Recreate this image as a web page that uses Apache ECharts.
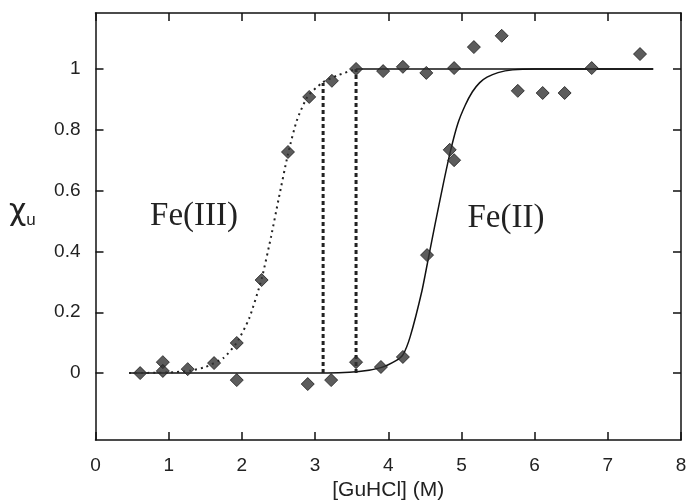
<!DOCTYPE html>
<html>
<head>
<meta charset="utf-8">
<script src="https://cdn.jsdelivr.net/npm/echarts@6/dist/echarts.min.js"></script>
<style>html,body{margin:0;padding:0;background:#fff}#c{width:687px;height:500px}</style>
</head>
<body>
<div id="c"></div>
<script>
// Data
const xTicks = [0, 1, 2, 3, 4, 5, 6, 7, 8];
const yTicks = [0, 0.2, 0.4, 0.6, 0.8, 1];

// Fe(III) measured points
const fe3Points = [
  [0.92, 0.036], [1.26, 0.013], [1.62, 0.033], [1.93, 0.099], [2.27, 0.306],
  [2.63, 0.727], [2.92, 0.908], [3.23, 0.961], [3.56, 1.0], [3.93, 0.993],
  [4.20, 1.007], [4.52, 0.987], [4.90, 1.003], [5.17, 1.072], [5.55, 1.109],
  [5.77, 0.928], [6.11, 0.921], [6.41, 0.921], [6.78, 1.003], [7.44, 1.049]
];
// Fe(II) measured points
const fe2Points = [
  [0.61, 0.0], [0.92, 0.007], [1.93, -0.023], [2.90, -0.036], [3.22, -0.023],
  [3.56, 0.036], [3.90, 0.02], [4.20, 0.053], [4.53, 0.388], [4.84, 0.734], [4.90, 0.70]
];
// Fe(III) fit (dotted part, then solid plateau)
const fe3FitDotted = [
  [0.46, 0], [1.0, 0.002], [1.3, 0.008], [1.5, 0.02], [1.75, 0.05], [1.93, 0.1],
  [2.1, 0.18], [2.27, 0.31], [2.4, 0.45], [2.5, 0.57], [2.63, 0.72], [2.75, 0.83],
  [2.9, 0.91], [3.1, 0.955], [3.3, 0.978], [3.56, 1.0]
];
const fe3FitSolid = [[3.56, 1.0], [7.62, 1.0]];
// Fe(II) fit (solid)
const fe2Fit = [
  [0.46, 0], [3.0, 0], [3.6, 0.005], [3.9, 0.018], [4.1, 0.04], [4.2, 0.06],
  [4.3, 0.12], [4.46, 0.27], [4.55, 0.38], [4.64, 0.49], [4.75, 0.62], [4.85, 0.73],
  [4.95, 0.82], [5.05, 0.88], [5.15, 0.925], [5.25, 0.955], [5.35, 0.973],
  [5.5, 0.988], [5.7, 0.997], [6.0, 1.0], [7.62, 1.0]
];
// Vertical drop lines
const drop1 = [[3.11, 0], [3.11, 0.954]];
const drop2 = [[3.56, 0], [3.56, 1.0]];

const chart = echarts.init(document.getElementById('c'), null, {renderer: 'canvas'});
const axisLine = {show: true, onZero: false, lineStyle: {color: '#111', width: 1.5}};
const tick = {show: true, inside: true, length: 8, lineStyle: {color: '#111', width: 1.5}};
const labelFont = {fontFamily: 'Liberation Sans', fontSize: 19, color: '#222'};
const marker = {color: '#333', borderColor: '#1a1a1a', borderWidth: 1};

chart.setOption({
  animation: false,
  backgroundColor: '#fff',
  grid: {left: 95.5, right: 6, top: 13, bottom: 60, outerBoundsMode: 'none', containLabel: false},
  xAxis: [
    {type: 'value', min: 0, max: 8, interval: 1, position: 'bottom',
     axisLine: axisLine, axisTick: tick, splitLine: {show: false},
     axisLabel: Object.assign({margin: 16, customValues: xTicks}, labelFont),
     name: '[GuHCl] (M)', nameLocation: 'middle', nameGap: 29,
     nameTextStyle: {fontFamily: 'Liberation Sans', fontSize: 21, color: '#222'}},
    {type: 'value', min: 0, max: 8, interval: 1, position: 'top',
     axisLine: axisLine, axisTick: tick, axisLabel: {show: false}, splitLine: {show: false}}
  ],
  yAxis: [
    {type: 'value', min: -0.22, max: 1.184, position: 'left',
     axisLine: axisLine, splitLine: {show: false},
     axisTick: Object.assign({customValues: yTicks}, tick),
     axisLabel: Object.assign({margin: 15, customValues: yTicks}, labelFont)},
    {type: 'value', min: -0.22, max: 1.184, position: 'right',
     axisLine: axisLine, splitLine: {show: false},
     axisTick: Object.assign({customValues: yTicks}, tick),
     axisLabel: {show: false}}
  ],
  graphic: [
    {type: 'text', left: 9, top: 197, style: {
      text: '{a|χ}{b|u}', rich: {
        a: {fontFamily: 'DejaVu Sans', fontSize: 30, fill: '#222'},
        b: {fontFamily: 'Liberation Sans', fontSize: 17, fill: '#222', padding: [17, 0, 0, 0]}
      }}},
    {type: 'text', x: 194, y: 216, style: {text: 'Fe(III)', fontFamily: 'Liberation Serif',
      fontSize: 33, fill: '#222', align: 'center', verticalAlign: 'middle'}},
    {type: 'text', x: 506, y: 218, style: {text: 'Fe(II)', fontFamily: 'Liberation Serif',
      fontSize: 33, fill: '#222', align: 'center', verticalAlign: 'middle'}}
  ],
  series: [
    {type: 'line', data: fe2Fit, showSymbol: false, smooth: 0.2,
     lineStyle: {color: '#111', width: 1.5}, z: 2},
    {type: 'line', data: fe3FitDotted, showSymbol: false, smooth: 0.2,
     lineStyle: {color: '#222', width: 2, type: [2, 4]}, z: 2},
    {type: 'line', data: fe3FitSolid, showSymbol: false,
     lineStyle: {color: '#111', width: 1.5}, z: 2},
    {type: 'line', data: drop1, showSymbol: false,
     lineStyle: {color: '#222', width: 3, type: [4, 3]}, z: 2},
    {type: 'line', data: drop2, showSymbol: false,
     lineStyle: {color: '#222', width: 3, type: [4, 3]}, z: 2},
    {type: 'scatter', data: fe3Points, symbol: 'diamond', symbolSize: 13, itemStyle: marker, z: 3},
    {type: 'scatter', data: fe2Points, symbol: 'diamond', symbolSize: 13, itemStyle: marker, z: 3}
  ]
});
</script>
</body>
</html>
